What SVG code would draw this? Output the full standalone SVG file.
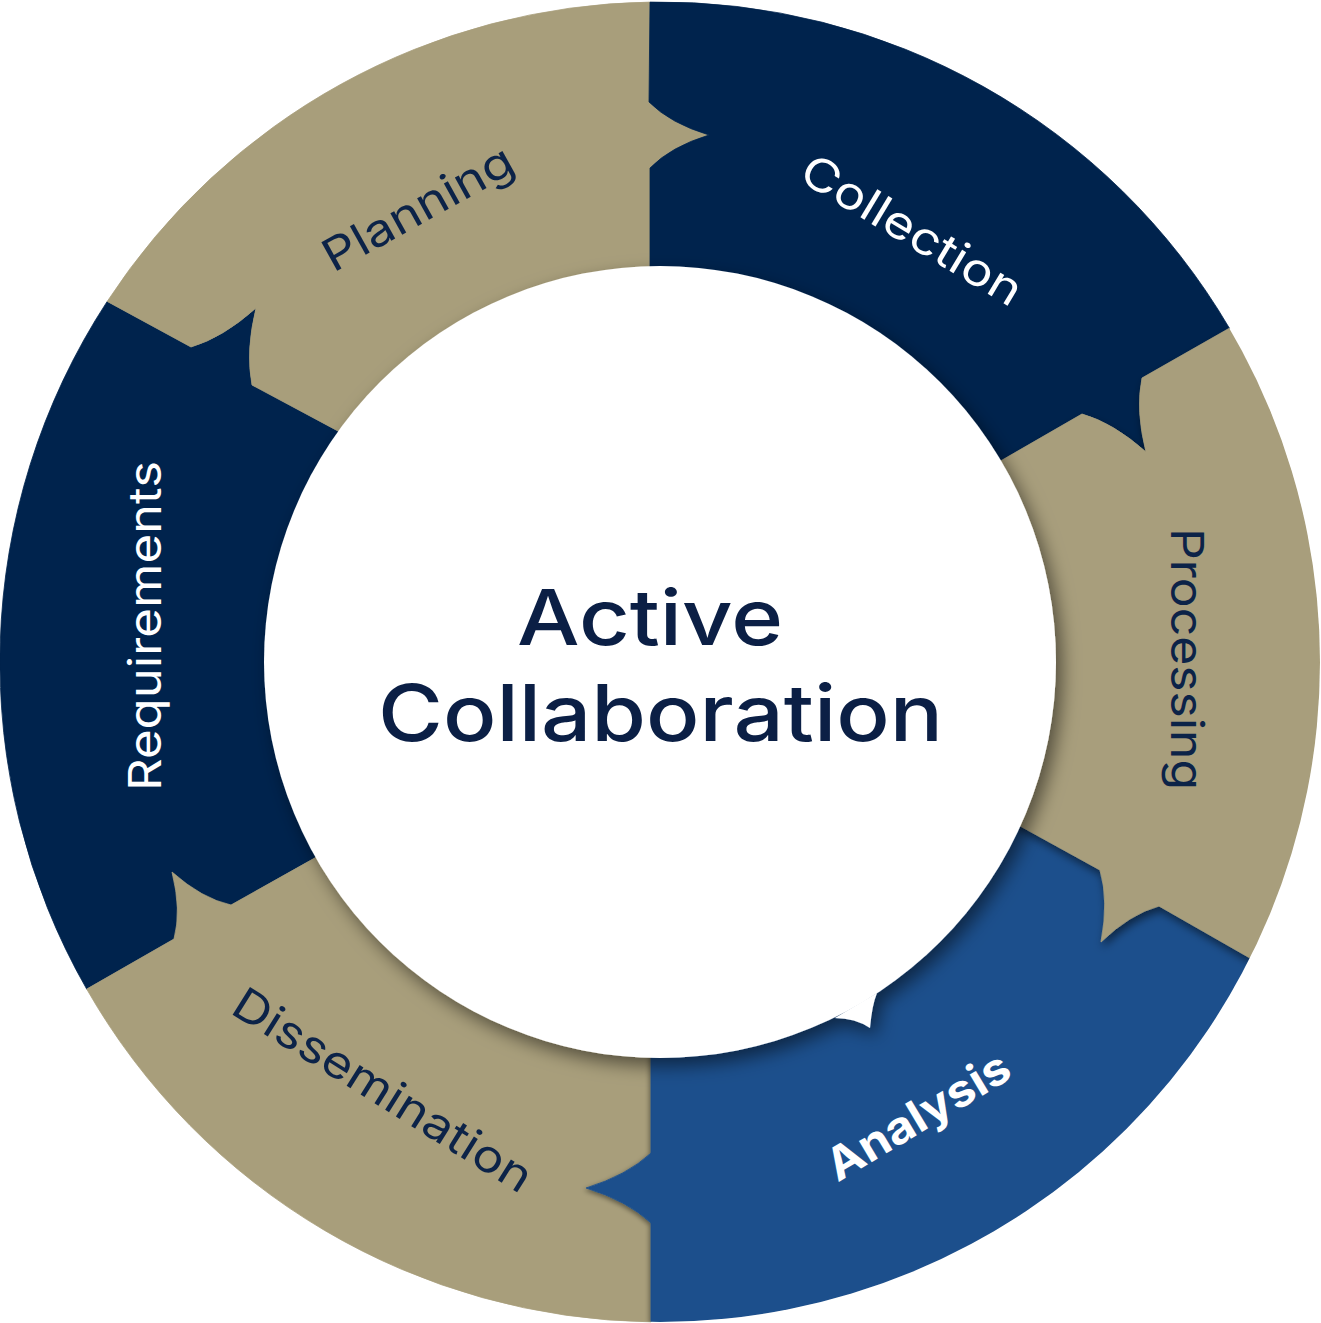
<svg xmlns="http://www.w3.org/2000/svg" width="1321" height="1323" viewBox="0 0 1321 1323">
<defs>
<style>
.tan{fill:#a89e7b;stroke:#a89e7b;stroke-width:0.8}
.navy{fill:#00234d;stroke:#00234d;stroke-width:0.8}
.blue{fill:#1c4f8c;stroke:#1c4f8c;stroke-width:0.8}
.lbl{font-family:Inter,"Liberation Sans",sans-serif;font-size:45px;font-weight:400}
.lt{fill:#ffffff}
.dk{fill:#0c2348}
.ctr{font-family:Inter,"Liberation Sans",sans-serif;font-weight:500;fill:#0b1f45}
</style>
<clipPath id="ring"><circle cx="660" cy="662" r="660"/></clipPath>
<filter id="shC" x="-20%" y="-20%" width="140%" height="140%"><feDropShadow dx="6" dy="8" stdDeviation="9" flood-color="#000" flood-opacity="0.5"/></filter>
<filter id="shP" x="-20%" y="-20%" width="140%" height="140%"><feDropShadow dx="2" dy="5" stdDeviation="4" flood-color="#000" flood-opacity="0.5"/></filter>
<filter id="shA" x="-20%" y="-20%" width="140%" height="140%"><feDropShadow dx="-1" dy="2" stdDeviation="2.5" flood-color="#000" flood-opacity="0.45"/></filter>
</defs>

<g id="requirements">
<path class="navy" d="M86.7,989.1 A660,660 0 0 1 107.2,301.4 L191,347 Q223,337.5 256,308 Q245.4,351.6 252,385 L348.1,436.4 A385,385 0 0 0 325.3,852.1 L231,905 Q201.8,898.5 172,872 Q181.7,910.4 174,939 Z"/>
<text class="lbl lt" text-anchor="middle" dy="0.35em" textLength="330" lengthAdjust="spacingAndGlyphs" transform="translate(145,626) rotate(-90)">Requirements</text>
</g>

<g id="planning">
<path class="tan" d="M107.2,301.4 A660,660 0 0 1 650,2.08 L649,102 Q670.3,123.4 709,135 Q670.7,146.7 650,168 L650,277.1 A385,385 0 0 0 348.1,436.4 L252,385 Q245.4,351.6 256,308 Q223,337.5 191,347 Z"/>
<text class="lbl dk" text-anchor="middle" dy="0.35em" textLength="211" lengthAdjust="spacingAndGlyphs" transform="translate(418,208) rotate(-29)">Planning</text>
</g>

<g id="collection">
<path class="navy" d="M650,2.08 A660,660 0 0 1 1229.4,328.2 L1142,378 Q1135.4,409.9 1146,452 Q1113.5,423 1082,414 L991.5,466.2 A385,385 0 0 0 650,277.1 L650,168 Q670.7,146.7 709,135 Q670.3,123.4 649,102 Z"/>
<text class="lbl lt" text-anchor="middle" dy="0.35em" textLength="250" lengthAdjust="spacingAndGlyphs" transform="translate(912,230) rotate(31)">Collection</text>
</g>

<g id="dissemination">
<path class="tan" d="M651,1321.9 A660,660 0 0 1 86.7,989.1 L174,939 Q181.7,910.4 172,872 Q201.8,898.5 231,905 L325.3,852.1 A385,385 0 0 0 651,1046.9 L651,1153 Q627.3,1175.2 586,1188 Q627.3,1200.8 651,1223 Z"/>
<text class="lbl dk" text-anchor="middle" dy="0.35em" textLength="344" lengthAdjust="spacingAndGlyphs" transform="translate(383,1090) rotate(32)">Dissemination</text>
</g>

<g id="analysis">
<g clip-path="url(#ring)">
<path class="blue" filter="url(#shA)" d="M1250,958 A660,660 0 0 1 651,1321.9 L651,1223 Q627.3,1200.8 586,1188 Q627.3,1175.2 651,1153 L651,1046.9 A385,385 0 0 0 1010.7,820.8 L1100,870 Q1109,900.7 1101,942 Q1129.9,914 1159,906 Z"/>
</g>
<text class="lbl lt" style="font-weight:700" text-anchor="middle" dy="0.35em" textLength="206" lengthAdjust="spacingAndGlyphs" transform="translate(918,1116) rotate(-31)">Analysis</text>
</g>

<g id="processing">
<g clip-path="url(#ring)">
<path class="tan" filter="url(#shP)" d="M1229.4,328.2 A660,660 0 0 1 1250,958 L1159,906 Q1129.9,914 1101,942 Q1109,900.7 1100,870 L1010.7,820.8 A385,385 0 0 0 991.5,466.2 L1082,414 Q1113.5,423 1146,452 Q1135.4,409.9 1142,378 Z"/>
</g>
<text class="lbl dk" text-anchor="middle" dy="0.35em" textLength="262" lengthAdjust="spacingAndGlyphs" transform="translate(1187,659) rotate(90)">Processing</text>
</g>

<g id="center">
<g filter="url(#shC)">
<circle cx="660" cy="662" r="396" fill="#ffffff"/>
<path fill="#ffffff" d="M835,1018 Q855,1018 870,1028 Q872,1005 877,993 Z"/>
</g>
<text class="ctr" x="650" y="644.6" font-size="77" text-anchor="middle" textLength="266" lengthAdjust="spacingAndGlyphs">Active</text>
<text class="ctr" x="660.5" y="740.8" font-size="78" text-anchor="middle" textLength="565" lengthAdjust="spacingAndGlyphs">Collaboration</text>
</g>
</svg>
